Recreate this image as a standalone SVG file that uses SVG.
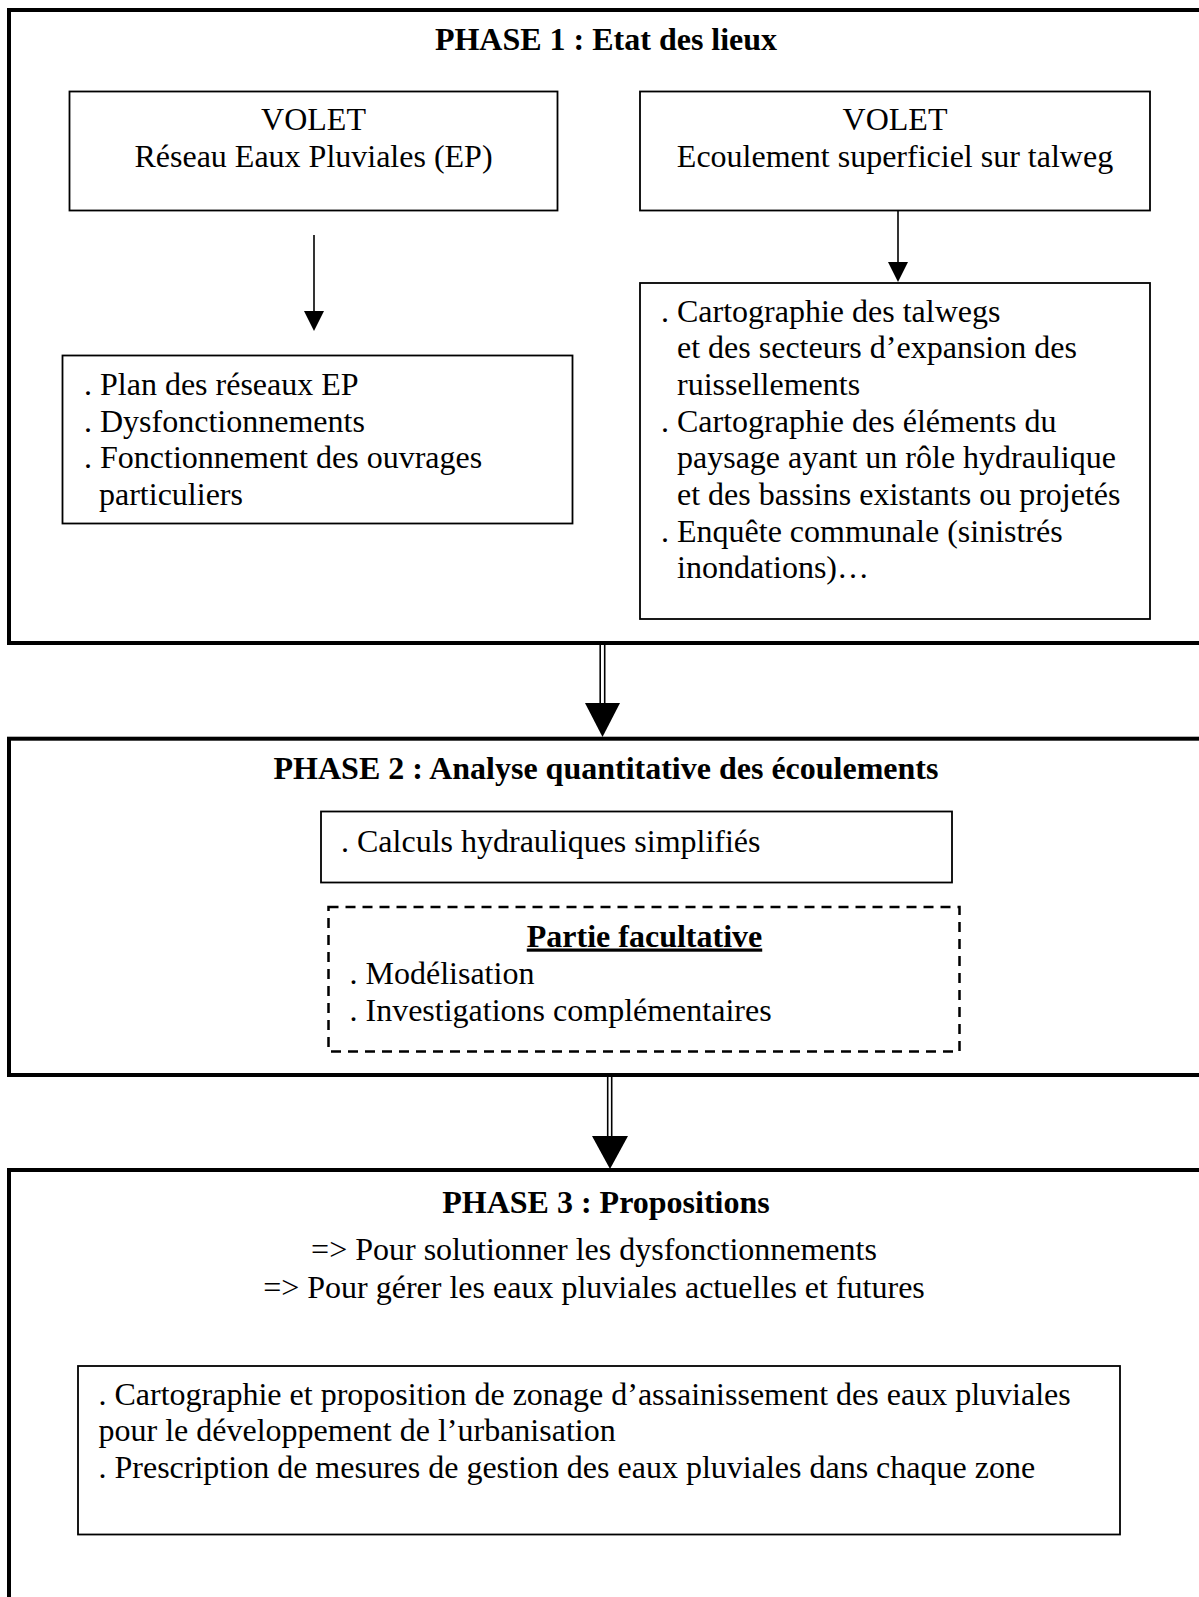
<svg xmlns="http://www.w3.org/2000/svg" width="1199" height="1597" viewBox="0 0 1199 1597">
<style>
text { font-family: "Liberation Serif", "Times New Roman", serif; font-size: 32px; fill: #000; }
.title { font-weight: bold; text-anchor: middle; }
.mid { text-anchor: middle; }
.phase { fill: none; stroke: #000; stroke-width: 4; }
.box { fill: #fff; stroke: #000; stroke-width: 1.8; }
.dash { fill: none; stroke: #000; stroke-width: 2.5; stroke-dasharray: 10 7; }
.shaft { stroke: #000; stroke-width: 1.6; fill: none; }
.head { fill: #000; stroke: none; }
</style>

<g id="phase1">
  <rect class="phase" x="9" y="10" width="1220" height="633"/>
  <text class="title" x="606" y="50">PHASE 1 : Etat des lieux</text>
</g>
<g id="volet-ep">
  <rect class="box" x="69.5" y="91.5" width="488" height="119"/>
  <text class="mid" x="313.5" y="130">VOLET</text>
  <text class="mid" x="313.5" y="167">Réseau Eaux Pluviales (EP)</text>
</g>
<g id="volet-talweg">
  <rect class="box" x="640" y="91.5" width="510" height="119"/>
  <text class="mid" x="895" y="130">VOLET</text>
  <text class="mid" x="895" y="167">Ecoulement superficiel sur talweg</text>
</g>
<g id="items-ep">
  <rect class="box" x="62.5" y="355.5" width="510" height="168"/>
  <text x="84" y="395">. Plan des réseaux EP</text>
  <text x="84" y="431.7">. Dysfonctionnements</text>
  <text x="84" y="468.4">. Fonctionnement des ouvrages</text>
  <text x="99" y="505">particuliers</text>
</g>
<g id="items-talweg">
  <rect class="box" x="640" y="283" width="510" height="336"/>
  <text x="661" y="321.7">. Cartographie des talwegs</text>
  <text x="677" y="358.4">et des secteurs d’expansion des</text>
  <text x="677" y="395">ruissellements</text>
  <text x="661" y="431.7">. Cartographie des éléments du</text>
  <text x="677" y="468.4">paysage ayant un rôle hydraulique</text>
  <text x="677" y="505">et des bassins existants ou projetés</text>
  <text x="661" y="541.7">. Enquête communale (sinistrés</text>
  <text x="677" y="578.4">inondations)…</text>
</g>

<g id="phase2">
  <rect class="phase" x="9" y="738.7" width="1220" height="336.3"/>
  <text class="title" x="606" y="779">PHASE 2 : Analyse quantitative des écoulements</text>
</g>
<g id="calculs">
  <rect class="box" x="321" y="811.5" width="631" height="71"/>
  <text x="341" y="851.5">. Calculs hydrauliques simplifiés</text>
</g>
<g id="facultative">
  <rect class="dash" x="328.5" y="907" width="631" height="144.5"/>
  <text class="title" x="644.5" y="946.5" text-decoration="underline">Partie facultative</text>
  <text x="349.5" y="983.5">. Modélisation</text>
  <text x="349.5" y="1020.5">. Investigations complémentaires</text>
</g>

<g id="phase3">
  <rect class="phase" x="9" y="1170" width="1220" height="460"/>
  <text class="title" x="606" y="1213">PHASE 3 : Propositions</text>
  <text class="mid" x="594" y="1260">=&gt; Pour solutionner les dysfonctionnements</text>
  <text class="mid" x="594" y="1297.5">=&gt; Pour gérer les eaux pluviales actuelles et futures</text>
</g>
<g id="propositions">
  <rect class="box" x="78" y="1366" width="1042" height="168.5"/>
  <text x="98.5" y="1404.5">. Cartographie et proposition de zonage d’assainissement des eaux pluviales</text>
  <text x="98.5" y="1441">pour le développement de l’urbanisation</text>
  <text x="98.5" y="1477.7">. Prescription de mesures de gestion des eaux pluviales dans chaque zone</text>
</g>

<g id="connectors">
  <line class="shaft" x1="314" y1="235" x2="314" y2="312"/>
  <polygon class="head" points="304,311 324,311 314,331"/>
  <line class="shaft" x1="898" y1="211" x2="898" y2="263"/>
  <polygon class="head" points="888,262 908,262 898,282"/>
  <line class="shaft" x1="600.2" y1="645" x2="600.2" y2="704"/>
  <line class="shaft" x1="604.7" y1="645" x2="604.7" y2="704"/>
  <polygon class="head" points="585,703 620,703 602.5,737"/>
  <line class="shaft" x1="607.7" y1="1077" x2="607.7" y2="1137"/>
  <line class="shaft" x1="611.7" y1="1077" x2="611.7" y2="1137"/>
  <polygon class="head" points="592,1136 628,1136 610,1169"/>
</g>
</svg>
